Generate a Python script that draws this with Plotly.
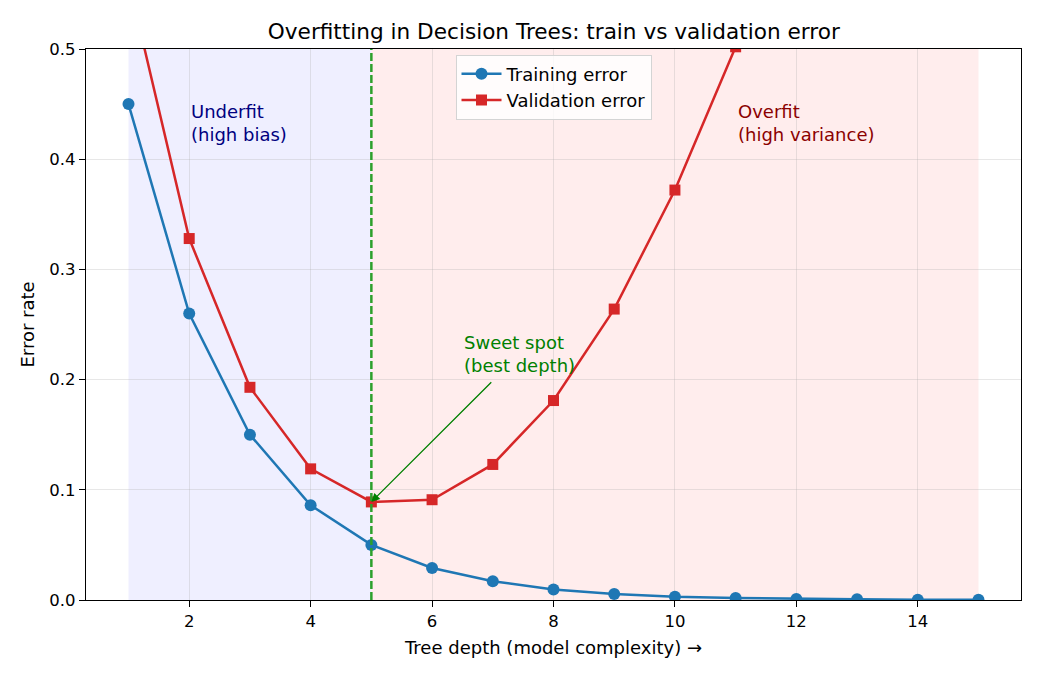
import plotly.graph_objects as go

depth = list(range(1, 16))
train_err = [0.45, 0.26, 0.15, 0.086, 0.050, 0.029, 0.017, 0.0095, 0.0055, 0.0030, 0.0018, 0.0010, 0.0006, 0.0003, 0.0002]
val_err = [0.562, 0.328, 0.193, 0.119, 0.089, 0.091, 0.123, 0.181, 0.264, 0.372, 0.502, 0.66, 0.85, 1.07, 1.32]
x_ticks = [2, 4, 6, 8, 10, 12, 14]
y_ticks = [0.0, 0.1, 0.2, 0.3, 0.4, 0.5]
best_depth = 5
best_val = 0.089

FONT = "DejaVu Sans"
GRID = "rgba(176,176,176,0.3)"
fig = go.Figure()

# shaded regions
fig.add_shape(type="rect", xref="x", yref="paper", x0=1, x1=5, y0=0, y1=1,
              fillcolor="rgba(0,0,255,0.062)", line_width=0, layer="below")
fig.add_shape(type="rect", xref="x", yref="paper", x0=5, x1=15, y0=0, y1=1,
              fillcolor="rgba(255,0,0,0.07)", line_width=0, layer="below")

fig.add_trace(go.Scatter(x=depth, y=train_err, mode="lines+markers", name="Training error",
                         line=dict(color="#1f77b4", width=2.5),
                         marker=dict(symbol="circle", size=12, color="#1f77b4")))
fig.add_trace(go.Scatter(x=depth, y=val_err, mode="lines+markers", name="Validation error",
                         line=dict(color="#d62728", width=2.5),
                         marker=dict(symbol="square", size=11, color="#d62728")))

# best depth line
fig.add_shape(type="line", xref="x", yref="paper", x0=best_depth, x1=best_depth, y0=0, y1=1,
              line=dict(color="#2ca02c", width=2.5, dash="8px,3px"), layer="above")

fig.add_annotation(x=2, y=0.433, xref="x", yref="y", text="Underfit<br>(high bias)",
                   showarrow=False, xanchor="left", yanchor="middle", align="left",
                   font=dict(family=FONT, size=18, color="navy"))
fig.add_annotation(x=11, y=0.433, xref="x", yref="y", text="Overfit<br>(high variance)",
                   showarrow=False, xanchor="left", yanchor="middle", align="left",
                   font=dict(family=FONT, size=18, color="darkred"))
fig.add_annotation(x=6.5, y=0.223, xref="x", yref="y", text="Sweet spot<br>(best depth)",
                   showarrow=False, xanchor="left", yanchor="middle", align="left",
                   font=dict(family=FONT, size=18, color="green"))
fig.add_annotation(x=best_depth, y=best_val, xref="x", yref="y", ax=7.0, ay=0.199,
                   axref="x", ayref="y", text="", showarrow=True,
                   arrowhead=2, arrowsize=1.3, arrowwidth=1.3, arrowcolor="green")

fig.update_layout(
    width=1040, height=676,
    margin=dict(l=86, r=19, t=49, b=76),
    paper_bgcolor="white", plot_bgcolor="white",
    font=dict(family=FONT, size=18, color="black"),
    title=dict(text="Overfitting in Decision Trees: train vs validation error",
               x=0.5325, xanchor="center", y=0.953, yanchor="middle",
               font=dict(family=FONT, size=21.6, color="black")),
    showlegend=True,
    legend=dict(x=0.5, y=0.99, xanchor="center", yanchor="top",
                bgcolor="rgba(255,255,255,0.8)", bordercolor="#d4d4d4", borderwidth=1,
                itemwidth=40, tracegroupgap=0,
                font=dict(family=FONT, size=18)),
)
fig.update_xaxes(range=[0.3, 15.7], tickvals=x_ticks, ticks="outside", ticklen=6, tickwidth=1.4,
                 tickcolor="black", showline=True, linecolor="black", linewidth=1.4, mirror=True,
                 showgrid=True, gridcolor=GRID, gridwidth=1.4, zeroline=False,
                 title=dict(text="Tree depth (model complexity) →", font=dict(size=18), standoff=11),
                 tickfont=dict(size=16.5))
fig.update_yaxes(range=[0, 0.5], tickvals=y_ticks, tickformat=".1f", ticks="outside", ticklen=6,
                 tickwidth=1.4,
                 tickcolor="black", showline=True, linecolor="black", linewidth=1.4, mirror=True,
                 showgrid=True, gridcolor=GRID, gridwidth=1.4, zeroline=False,
                 title=dict(text="Error rate", font=dict(size=18), standoff=9),
                 tickfont=dict(size=16.5))

fig.write_html("out.html")
